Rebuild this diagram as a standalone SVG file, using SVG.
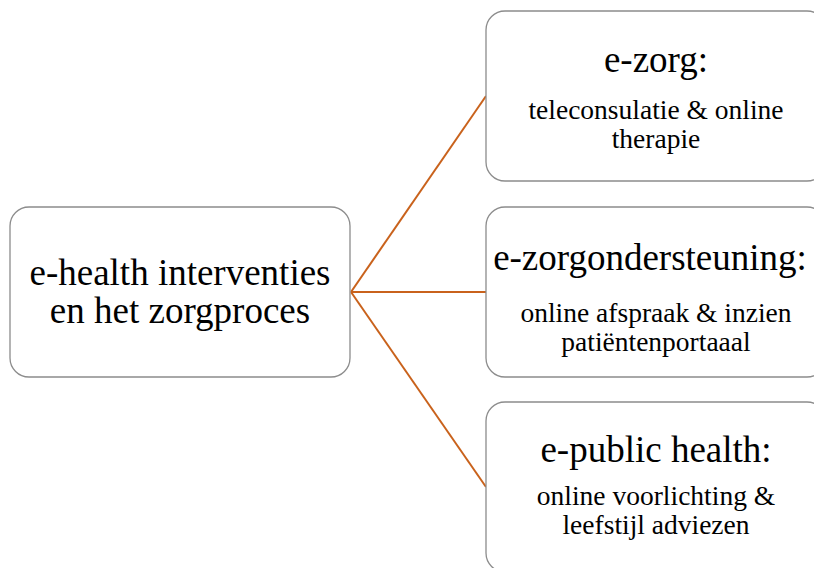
<svg xmlns="http://www.w3.org/2000/svg" width="814" height="568" viewBox="0 0 814 568">
  <style>
    .box { fill: #ffffff; stroke: #8c8c8c; stroke-width: 1.3; }
    .link { stroke: #c9621c; stroke-width: 2; fill: none; }
    .main { font-size: 37px; }
    .title { font-size: 37px; }
    .sub { font-size: 27.5px; }
  </style>
  <rect width="814" height="568" fill="#ffffff"/>

  <g id="connectors">
    <line class="link" x1="351" y1="292" x2="486" y2="96"/>
    <line class="link" x1="351" y1="292" x2="486" y2="292"/>
    <line class="link" x1="351" y1="292" x2="486" y2="487"/>
  </g>

  <g font-family="Liberation Serif, serif" fill="#000000" text-anchor="middle">
    <g id="root">
      <rect class="box" x="10" y="207" width="340" height="170" rx="19"/>
      <text class="main" x="180" y="285">e-health interventies</text>
      <text class="main" x="180" y="323">en het zorgproces</text>
    </g>

    <g id="e-zorg">
      <rect class="box" x="486" y="11" width="340" height="170" rx="19"/>
      <text class="title" x="656" y="72">e-zorg:</text>
      <text class="sub" x="656" y="119">teleconsulatie &amp; online</text>
      <text class="sub" x="656" y="148">therapie</text>
    </g>

    <g id="e-zorgondersteuning">
      <rect class="box" x="486" y="207" width="340" height="170" rx="19"/>
      <text class="title" x="650" y="270" font-size="38">e-zorgondersteuning:</text>
      <text class="sub" x="656" y="322">online afspraak &amp; inzien</text>
      <text class="sub" x="656" y="351">patiëntenportaaal</text>
    </g>

    <g id="e-public-health">
      <rect class="box" x="486" y="402" width="340" height="170" rx="19"/>
      <text class="title" x="656" y="462">e-public health:</text>
      <text class="sub" x="656" y="505">online voorlichting &amp;</text>
      <text class="sub" x="656" y="534">leefstijl adviezen</text>
    </g>
  </g>
</svg>
